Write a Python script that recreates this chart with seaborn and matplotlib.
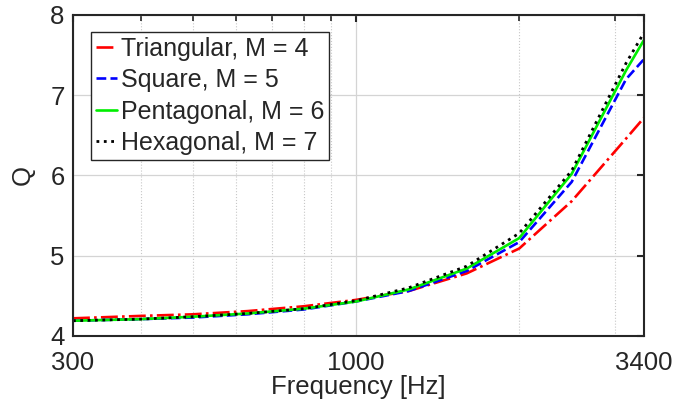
import matplotlib
matplotlib.use("Agg")
import matplotlib.pyplot as plt
import matplotlib.ticker as mticker
import seaborn as sns

freq = [300, 400, 500, 630, 800, 1000, 1250, 1600, 2000, 2500, 3150, 3400]
q_tri = [4.22, 4.25, 4.27, 4.31, 4.37, 4.45, 4.56, 4.78, 5.09, 5.68, 6.46, 6.72]
q_sq = [4.19, 4.21, 4.23, 4.27, 4.33, 4.43, 4.56, 4.81, 5.17, 5.92, 7.20, 7.45]
q_pent = [4.19, 4.21, 4.24, 4.28, 4.34, 4.43, 4.58, 4.84, 5.22, 6.02, 7.31, 7.69]
q_hex = [4.19, 4.21, 4.24, 4.28, 4.34, 4.44, 4.60, 4.87, 5.28, 6.06, 7.40, 7.78]
labels = ["Triangular, M = 4", "Square, M = 5", "Pentagonal, M = 6", "Hexagonal, M = 7"]
xticks = [300, 1000, 3400]
xminor = [400, 500, 600, 700, 800, 900, 2000, 3000]
yticks = [4, 5, 6, 7, 8]

sns.set_theme(style="white")
plt.rcParams['font.family'] = ['Liberation Sans', 'DejaVu Sans']
plt.rcParams['axes.linewidth'] = 1.5

fig, ax = plt.subplots(figsize=(6.97, 4.03), dpi=100)
fig.subplots_adjust(left=0.1047, right=0.924, bottom=0.1663, top=0.9628)

series = [q_tri, q_sq, q_pent, q_hex]
colors = ["#FF0000", "#0000FF", "#00EE00", "#000000"]
styles = ["-.", "--", "-", ":"]
widths = [1.9, 1.9, 1.9, 2.0]
for vals, lab, c, ls, lw in zip(series, labels, colors, styles, widths):
    sns.lineplot(x=freq, y=vals, ax=ax, color=c, linestyle=ls, linewidth=lw, label=lab)

ax.set_xscale("log")
ax.set_xlim(300, 3400)
ax.set_ylim(4, 8)
ax.xaxis.set_major_locator(mticker.FixedLocator(xticks))
ax.xaxis.set_major_formatter(mticker.FixedFormatter([str(t) for t in xticks]))
ax.xaxis.set_minor_locator(mticker.FixedLocator(xminor))
ax.xaxis.set_minor_formatter(mticker.NullFormatter())
ax.set_yticks(yticks)
ax.set_yticklabels([str(t) for t in yticks])

ax.grid(True, which="major", color="#d4d4d4", linewidth=0.9, linestyle="-")
ax.grid(True, which="minor", axis="x", color="#c8c8c8", linewidth=0.8, linestyle=":")
ax.set_axisbelow(True)

tc = "#262626"
fs = 18.5
for s in ax.spines.values():
    s.set_color(tc)
    s.set_linewidth(1.5)
ax.tick_params(which="both", direction="in", top=True, right=True, color=tc,
               labelcolor=tc, labelsize=fs)
ax.tick_params(which="major", length=5, width=1.5)
ax.tick_params(which="minor", length=4, width=1.2)
ax.tick_params(axis="x", which="major", pad=10.5)
ax.tick_params(axis="y", which="major", pad=6)

ax.set_xlabel("Frequency [Hz]", fontsize=fs, color=tc, labelpad=0)
ax.set_ylabel("Q", fontsize=fs, color=tc, labelpad=11)

leg = ax.legend(loc="upper left", bbox_to_anchor=(0.0315, 0.948), borderaxespad=0,
                fontsize=18, frameon=True, fancybox=False, edgecolor=tc,
                borderpad=0.2, handlelength=0.85, handletextpad=0.15,
                labelspacing=0.3)
leg.get_frame().set_linewidth(1.0)
leg.get_frame().set_alpha(1)

fig.savefig("out.png", dpi=100)
